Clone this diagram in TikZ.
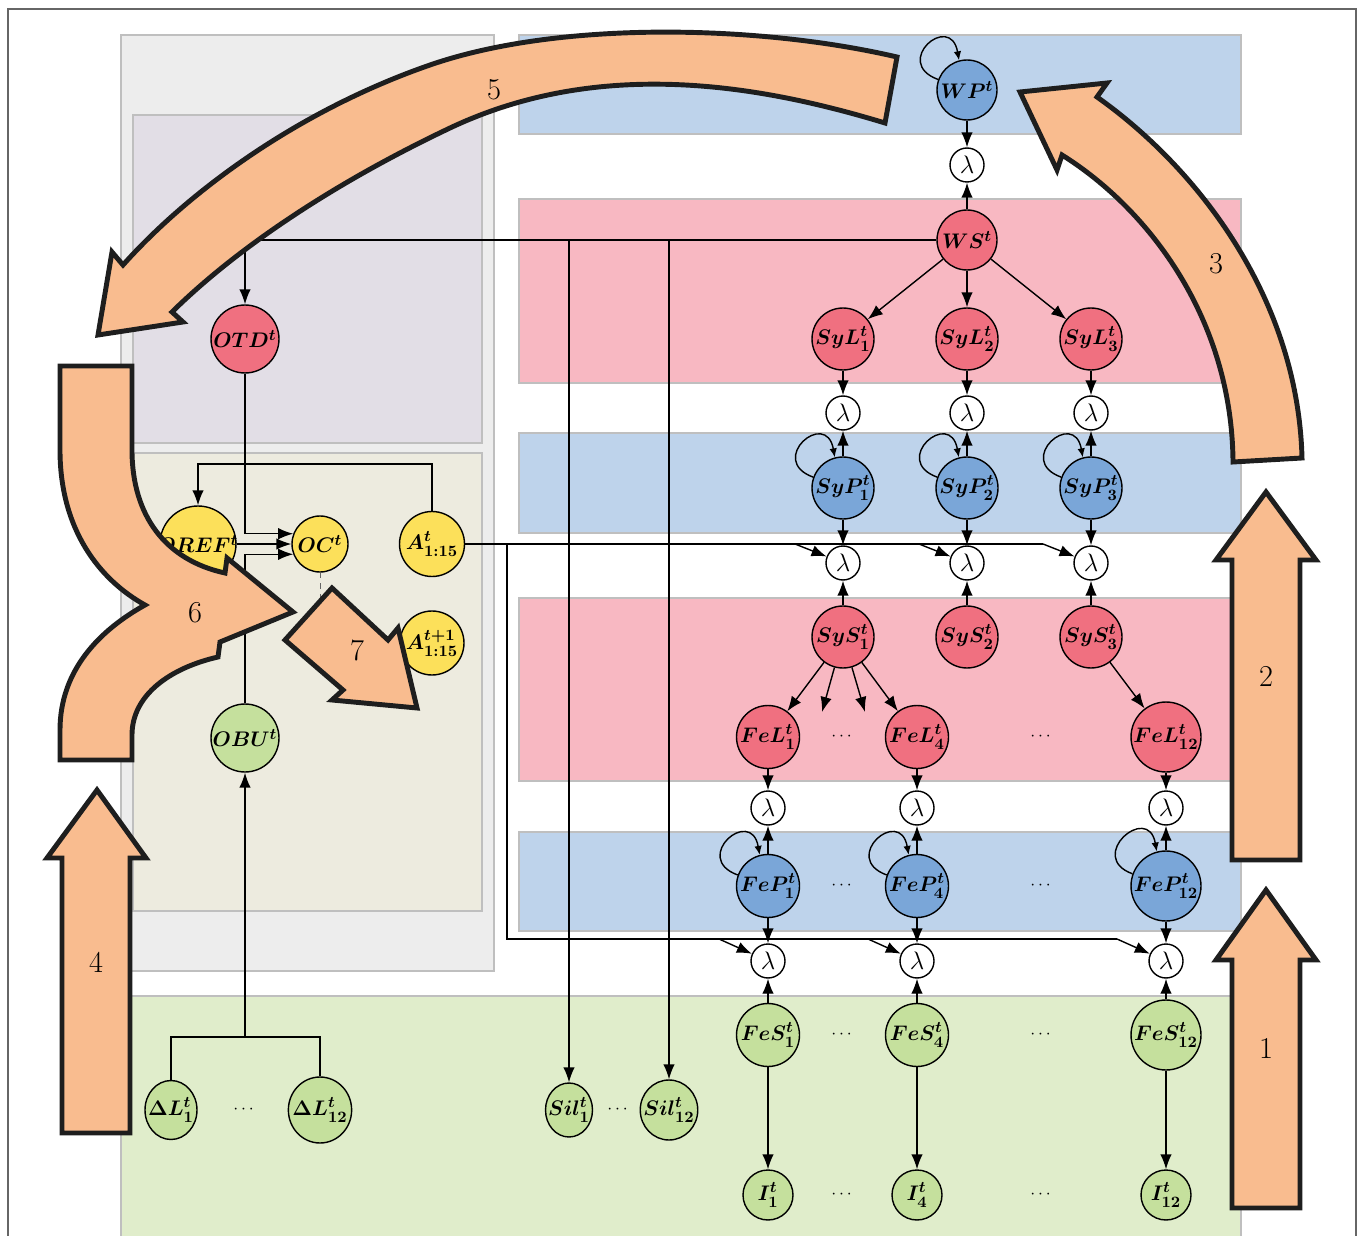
\documentclass[tikz,border=0pt]{standalone}
\usepackage{amsmath}
\usetikzlibrary{arrows.meta,shapes.geometric}

\definecolor{nodered}{RGB}{240,112,128}
\definecolor{nodeblue}{RGB}{122,166,216}
\definecolor{nodegreen}{RGB}{197,224,157}
\definecolor{nodeyellow}{RGB}{252,224,90}
\definecolor{bandred}{RGB}{248,184,194}
\definecolor{bandblue}{RGB}{190,211,235}
\definecolor{bandgreen}{RGB}{224,237,203}
\definecolor{boxgray}{RGB}{237,237,237}
\definecolor{boxpurple}{RGB}{226,222,230}
\definecolor{boxbeige}{RGB}{237,235,223}
\definecolor{flowfill}{RGB}{249,188,143}
\definecolor{flowline}{RGB}{30,30,30}

\tikzset{
	band/.style={draw=black!25, line width=0.6pt},
	var/.style={circle, draw, line width=0.8pt, inner sep=-2pt, minimum size=1.24cm, font=\fontsize{13}{16}\selectfont\boldmath},
	lvar/.style={var, fill=nodered},
	pvar/.style={var, fill=nodeblue},
	svar/.style={var, fill=nodegreen},
	ovar/.style={var, fill=nodeyellow},
	evar/.style={ellipse, draw, fill=nodegreen, line width=0.8pt, inner sep=-3pt, font=\fontsize{13}{16}\selectfont\boldmath},
	lam/.style={circle, draw, fill=white, line width=0.8pt, inner sep=0pt, minimum size=0.68cm, font=\Large},
	link/.style={-{Latex[length=3mm,width=2.3mm]}, line width=0.8pt},
	selflink/.style={-{Latex[length=1.8mm,width=1.5mm]}, line width=0.8pt},
	flow/.style={fill=flowfill, draw=flowline, line width=2.8pt, line join=miter},
	flownum/.style={font=\LARGE},
}

\begin{document}
\begin{tikzpicture}[x=0.02cm, y=-0.02cm]
	\useasboundingbox (0,0) rectangle (1362,1236);
	\path[draw=black!60, line width=0.6pt] (8,1240) -- (8,9) -- (1356,9) -- (1356,1240);

	% background boxes
	\path[band, fill=boxgray] (121,35) rectangle (494,971);
	\path[band, fill=boxpurple] (133,115) rectangle (482,443);
	\path[band, fill=boxbeige] (133,453) rectangle (482,911);
	\path[band, fill=bandblue] (519,35) rectangle (1241,134);
	\path[band, fill=bandred] (519,199) rectangle (1241,383);
	\path[band, fill=bandblue] (519,433) rectangle (1241,533);
	\path[band, fill=bandred] (519,598) rectangle (1241,781);
	\path[band, fill=bandblue] (519,832) rectangle (1241,931);
	\path[band, fill=bandgreen] (121,996) rectangle (1241,1240);

	% weather
	\node[pvar, minimum size=1.2cm] (wp) at (967,90) {$WP^t$};
	\node[lam] (lwp) at (967,165) {$\lambda$};
	\node[lvar, minimum size=1.2cm] (ws) at (967,240) {$WS^t$};

	% system level
	\foreach \i/\x in {1/843, 2/967, 3/1091} {
		\node[lvar] (syl\i) at (\x,339) {$SyL^t_{\i}$};
		\node[lam] (la\i) at (\x,413) {$\lambda$};
		\node[pvar] (syp\i) at (\x,488) {$SyP^t_{\i}$};
		\node[lam] (lb\i) at (\x,563) {$\lambda$};
		\node[lvar] (sys\i) at (\x,637) {$SyS^t_{\i}$};
		\coordinate (ab\i) at (\x-48,544);
	}

	% feature level
	\foreach \i/\x/\s in {1/768/1.26cm, 4/917/1.26cm, 12/1166/1.4cm} {
		\node[lvar, minimum size=\s] (fel\i) at (\x,737) {$FeL^t_{\i}$};
		\node[lam] (lc\i) at (\x,808) {$\lambda$};
		\node[pvar, minimum size=\s] (fep\i) at (\x,886) {$FeP^t_{\i}$};
		\node[lam] (ld\i) at (\x,961) {$\lambda$};
		\node[svar, minimum size=\s] (fes\i) at (\x,1035) {$FeS^t_{\i}$};
		\node[svar, minimum size=1cm] (in\i) at (\x,1195) {$I^t_{\i}$};
		\coordinate (ac\i) at (\x-49,939);
	}
	\foreach \x in {843,1042}
		\foreach \y in {737,886,1035,1195}
			\node (dots-\x-\y) at (\x,\y) {$\cdots$};
	\coordinate (feldots1) at (822,712);
	\coordinate (feldots2) at (865,712);

	% operator side
	\node[lvar, minimum size=1.36cm] (otd) at (245,339) {$OTD^t$};
	\node[ovar, minimum size=1.52cm] (oref) at (198,544) {$OREF^t$};
	\node[ovar, minimum size=1.12cm] (oc) at (320,544) {$OC^t$};
	\node[ovar, minimum size=1.3cm] (at) at (432,544) {$A^t_{1:15}$};
	\node[ovar, minimum size=1.28cm] (atn) at (432,643) {$A^{t+1}_{1:15}$};
	\node[svar, minimum size=1.36cm] (obu) at (245,738) {$OBU^t$};
	\coordinate (atref) at (432,464);
	\coordinate (ocdash) at (320,615);
	\coordinate (busdrop) at (507,544);

	% bottom inputs
	\node[evar, minimum width=1.04cm, minimum height=1.18cm] (dl1) at (171,1110) {$\Delta L^t_1$};
	\node[evar, minimum width=1.16cm, minimum height=1.32cm] (dl12) at (320,1110) {$\Delta L^t_{12}$};
	\node (dots-dl) at (245,1110) {$\cdots$};
	\node[evar, minimum width=0.94cm, minimum height=1.08cm] (sil1) at (569,1110) {$Sil^t_1$};
	\node[evar, minimum width=1.04cm, minimum height=1.2cm] (sil12) at (669,1110) {$Sil^t_{12}$};
	\node (dots-sil) at (619,1110) {$\cdots$};
	\coordinate (dlj) at (245,1037);

	% links
	\path[draw, selflink] (wp.160) .. controls +(160:1cm) and +(100:1cm) .. (wp.105);
	\path[draw, link] (wp) -- (lwp);
	\path[draw, link] (ws) -- (lwp);
	\foreach \i in {1,2,3}
		\path[draw, link] (ws) -- (syl\i);
	\path[draw, link] (ws) -| (otd);
	\path[draw, link] (sil1 |- ws) -- (sil1);
	\path[draw, link] (sil12 |- ws) -- (sil12);

	\foreach \i in {1,2,3} {
		\path[draw, link] (syl\i) -- (la\i);
		\path[draw, link] (syp\i) -- (la\i);
		\path[draw, selflink] (syp\i.160) .. controls +(160:1cm) and +(100:1cm) .. (syp\i.105);
		\path[draw, link] (syp\i) -- (lb\i);
		\path[draw, link] (sys\i) -- (lb\i);
		\path[draw, link] (ab\i) -- (lb\i);
	}
	\path[draw, line width=0.8pt] (at) -- (ab3);
	\path[draw, line width=0.8pt] (busdrop) |- (ac12);

	\path[draw, link] (sys1) -- (fel1);
	\path[draw, link] (sys1) -- (feldots1);
	\path[draw, link] (sys1) -- (feldots2);
	\path[draw, link] (sys1) -- (fel4);
	\path[draw, link] (sys3) -- (fel12);
	\foreach \i in {1,4,12} {
		\path[draw, link] (fel\i) -- (lc\i);
		\path[draw, link] (fep\i) -- (lc\i);
		\path[draw, selflink] (fep\i.160) .. controls +(160:1cm) and +(100:1cm) .. (fep\i.105);
		\path[draw, link] (fep\i) -- (ld\i);
		\path[draw, link] (fes\i) -- (ld\i);
		\path[draw, link] (ac\i) -- (ld\i);
		\path[draw, link] (fes\i) -- (in\i);
	}

	\path[draw, link] (otd) |- (oc.159);
	\path[draw, link] (oref) -- (oc);
	\path[draw, link] (obu) |- (oc.201);
	\path[draw, link] (at) -- (atref) -| (oref);
	\path[draw, dashed, black!60, line width=0.4pt] (oc) -- (ocdash);
	\path[draw, line width=0.8pt] (dl1) |- (dlj) -| (dl12);
	\path[draw, link] (dlj) -- (obu);

	% workflow arrows
	\path[flow] (1232,1208) -- (1232,960) -- (1216,960) -- (1266,890) -- (1316,960) -- (1300,960) -- (1300,1208) -- cycle;
	\path[flow] (1232,860) -- (1232,560) -- (1216,560) -- (1266,492) -- (1316,560) -- (1300,560) -- (1300,860) -- cycle;
	\path[flow] (1233,462) .. controls (1232,320) and (1150,210) .. (1062,155) -- (1057,170) -- (1020,92) -- (1107,83) -- (1097,97) .. controls (1200,170) and (1298,300) .. (1302,458) -- cycle;
	\path[flow] (62,1133) -- (62,858) -- (47,858) -- (97,790) -- (146,858) -- (130,858) -- (130,1133) -- cycle;
	\path[flow] (897,57) .. controls (760,25) and (560,20) .. (430,65) .. controls (300,110) and (190,190) .. (123,265) -- (112,252) -- (98,335) -- (183,322) -- (172,312) .. controls (235,250) and (330,185) .. (450,128) .. controls (600,57) and (760,85) .. (885,123) -- cycle;
	\path[flow] (60,366) -- (132,366) -- (132,450) .. controls (132,515) and (165,560) .. (225,573) -- (227,558) -- (293,612) -- (220,642) -- (218,657) .. controls (170,668) and (132,695) .. (132,735) -- (132,760) -- (60,760) -- (60,730) .. controls (60,670) and (100,630) .. (145,605) .. controls (100,580) and (60,530) .. (60,450) -- cycle;
	\path[flow] (285,640) -- (332,588) -- (388,640) -- (398,628) -- (417,708) -- (332,700) -- (343,690) -- cycle;

	\node[flownum] (num1) at (1266,1048) {1};
	\node[flownum] (num2) at (1266,676) {2};
	\node[flownum] (num3) at (1216,264) {3};
	\node[flownum] (num4) at (96,962) {4};
	\node[flownum] (num5) at (494,90) {5};
	\node[flownum] (num6) at (195,613) {6};
	\node[flownum] (num7) at (357,650) {7};
\end{tikzpicture}
\end{document}
